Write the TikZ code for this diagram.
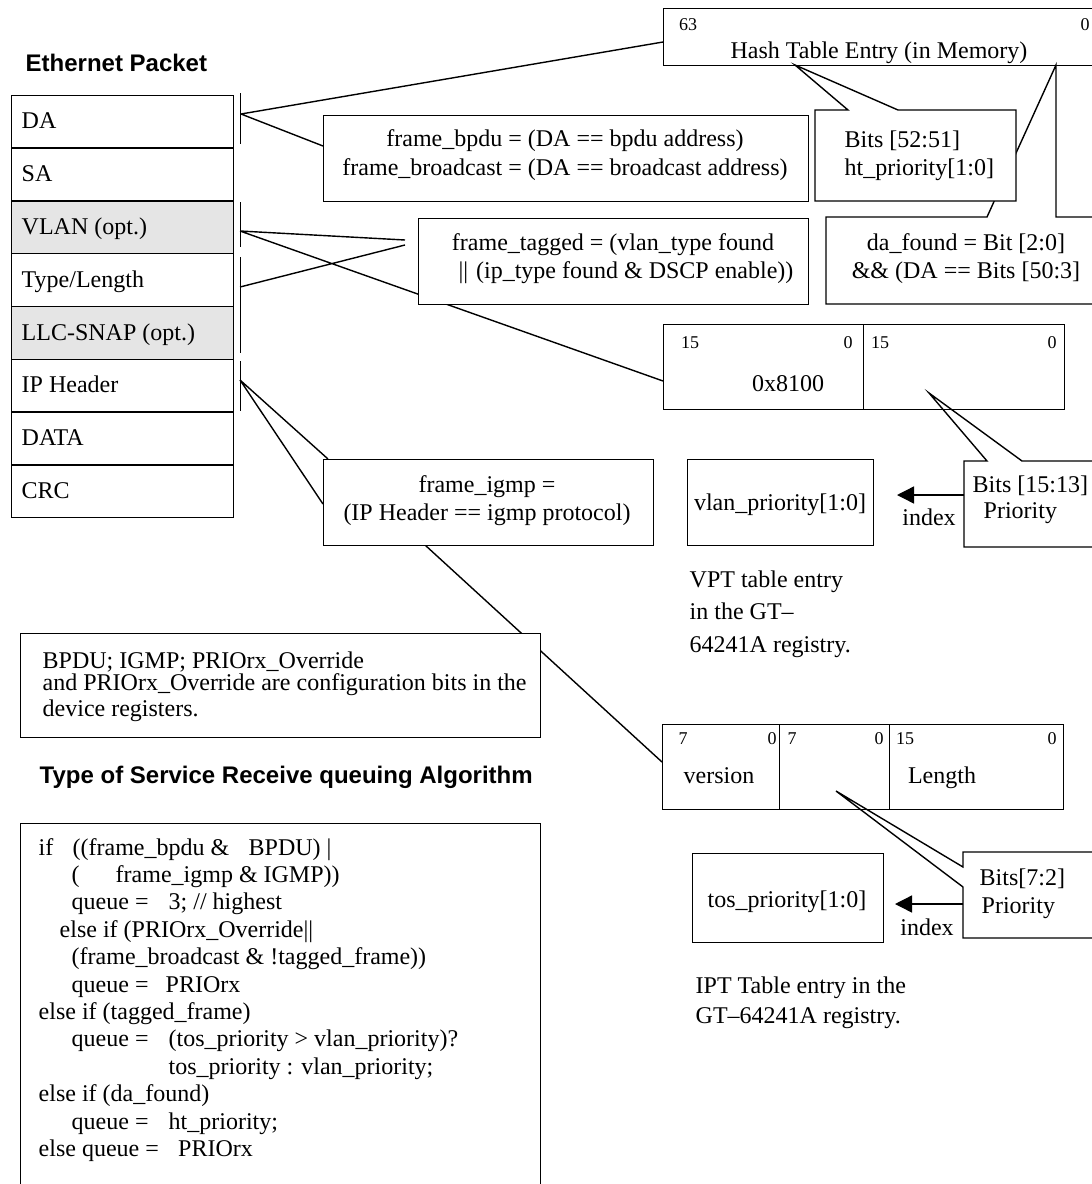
\documentclass[tikz,border=0pt]{standalone}
\usepackage{fontspec}
\setmainfont{Liberation Serif}
\setsansfont{Liberation Sans}
\usetikzlibrary{arrows.meta}

\begin{document}
\begin{tikzpicture}[x=1pt,y=-1pt,line width=1.4pt,
  every node/.style={inner sep=0pt,font=\fontsize{24}{27.5}\selectfont},
  lbl/.style={anchor=base west},
  ctr/.style={anchor=base},
  bit/.style={anchor=base,font=\fontsize{18}{20}\selectfont},
  head/.style={anchor=base west,font=\fontsize{24}{28}\selectfont\sffamily\bfseries},
  panel/.style={draw,fill=white,anchor=north west},
  cell/.style={draw,anchor=north west},
  idx/.style={-{Triangle[length=17pt,width=17pt]}}]
\useasboundingbox (0,0) rectangle (1092,1184);
\clip (0,0) rectangle (1092,1184);
\fill[white] (0,0) rectangle (1092,1184);

% the packet
\node[head] (ethTitle) at (25,71) {Ethernet Packet};
\foreach \i/\lab/\shd in {0/DA/white,1/SA/white,2/VLAN (opt.)/black!10,3/{Type/Length}/white,
  4/LLC-SNAP (opt.)/black!10,5/IP Header/white,6/DATA/white,7/CRC/white}{
  \node[panel,fill=\shd,minimum width=222pt,minimum height=52.8pt] (row\i) at (11,{94.5+52.8*\i}) {};
  \node[lbl] (rowlab\i) at (21,{94.5+52.8*\i+34.4}) {\lab};
}
\foreach \ya/\yb in {93/144,202/247,257/353,361/411}
  \draw (240.5,\ya) -- (240.5,\yb);

% callout lines
\coordinate (tDA) at (241,114);
\coordinate (tVLAN) at (240,231);
\coordinate (tType) at (240,287);
\coordinate (tIP) at (240,380);
\coordinate (tagTipA) at (405,240);
\coordinate (tagTipB) at (405,245);
\coordinate (hashIn) at (663,42);
\coordinate (bpduIn) at (323,146);
\coordinate (tpidIn) at (663,381);
\coordinate (igmpInA) at (328,459);
\coordinate (igmpInB) at (323,504);
\coordinate (igmpOut) at (425,545);
\coordinate (ipIn) at (662,762);
\draw (tDA) -- (hashIn) (tDA) -- (bpduIn);
\draw (tVLAN) -- (tagTipA) (tType) -- (tagTipB) (tVLAN) -- (tpidIn);
\draw (tIP) -- (igmpInA) (tIP) -- (igmpInB);
\draw (igmpOut) -- (ipIn);

% condition boxes
\node[panel,minimum width=485pt,minimum height=86pt] (bpduBox) at (323,115) {};
\node[ctr] (bpduA) at (565,146) {frame\_bpdu = (DA == bpdu address)};
\node[ctr] (bpduB) at (565,175) {frame\_broadcast = (DA == broadcast address)};
\node[panel,minimum width=390pt,minimum height=86pt] (tagBox) at (418,218) {};
\node[ctr] (tagA) at (613,250) {frame\_tagged = (vlan\_type found};
\node[ctr] (tagB) at (626,278) {\textbar\textbar\hspace{8pt}(ip\_type found \& DSCP enable))};
\node[panel,minimum width=330pt,minimum height=86pt] (igmpBox) at (323,459) {};
\node[ctr] (igmpA) at (487,492) {frame\_igmp =};
\node[ctr] (igmpB) at (487,520) {(IP Header == igmp protocol)};

% hash table entry
\node[panel,minimum width=450pt,minimum height=57pt] (hashBox) at (663,8) {};
\node[bit] (hashHi) at (688,30) {63};
\node[bit] (hashLo) at (1085,30) {0};
\node[ctr] (hashLab) at (879,58) {Hash Table Entry (in Memory)};
\draw[fill=white] (987,217) -- (1056,65) -- (1056,217) -- (1120,217) -- (1120,304) -- (826,304) -- (826,217) -- cycle;
\node[ctr] (daA) at (966,250) {da\_found = Bit [2:0]};
\node[ctr] (daB) at (966,278) {\&\& (DA == Bits [50:3]};
\draw[fill=white] (848,110) -- (795,65) -- (898,110) -- (1016,110) -- (1016,201) -- (815,201) -- (815,110) -- cycle;
\node[lbl] (htA) at (844,147) {Bits [52:51]};
\node[lbl] (htB) at (844,175) {ht\_priority[1:0]};

% VLAN tag
\draw[fill=white] (987,461) -- (929,393) -- (1022,461) -- (1120,461) -- (1120,547) -- (964,547) -- (964,461) -- cycle;
\node[lbl] (vptA) at (972,492) {Bits [15:13]};
\node[lbl] (vptB) at (983,518) {Priority};
\node[cell,minimum width=200pt,minimum height=85pt] (tpidCell) at (663,324) {};
\node[cell,minimum width=201pt,minimum height=85pt] (tciCell) at (863,324) {};
\foreach \x/\b in {690/15,848/0,880/15,1052/0}
  \node[bit] (tagbit\x) at (\x,348) {\b};
\node[ctr] (tpidVal) at (788,391) {0x8100};
\node[panel,minimum width=186pt,minimum height=86pt] (vlanBox) at (687,459) {};
\node[ctr] (vlanLab) at (780,510) {vlan\_priority[1:0]};
\coordinate (vptFrom) at (964,495);
\coordinate (vptTo) at (897,495);
\draw[idx] (vptFrom) -- (vptTo);
\node[ctr] (vptIdx) at (929,525) {index};
\node[lbl] (vptNoteA) at (689,587) {VPT table entry};
\node[lbl] (vptNoteB) at (689,619.5) {in the GT--};
\node[lbl] (vptNoteC) at (689,652) {64241A registry.};

% IP header
\draw[fill=white] (963,867) -- (836,791) -- (963,887) -- (963,938) -- (1120,938) -- (1120,852) -- (963,852) -- cycle;
\node[lbl] (iptA) at (979,885) {Bits[7:2]};
\node[lbl] (iptB) at (981,913) {Priority};
\node[cell,minimum width=117pt,minimum height=85pt] (verCell) at (662,724) {};
\node[cell,minimum width=110pt,minimum height=85pt] (tosCell) at (779,724) {};
\node[cell,minimum width=174pt,minimum height=85pt] (lenCell) at (889,724) {};
\foreach \x/\b in {683/7,772/0,792/7,879/0,905/15,1052/0}
  \node[bit] (ipbit\x) at (\x,744) {\b};
\node[ctr] (verLab) at (719,783) {version};
\node[ctr] (lenLab) at (942,783) {Length};
\node[panel,minimum width=191pt,minimum height=89pt] (tosBox) at (692,853) {};
\node[ctr] (tosLab) at (787,907) {tos\_priority[1:0]};
\coordinate (iptFrom) at (963,904);
\coordinate (iptTo) at (895,904);
\draw[idx] (iptFrom) -- (iptTo);
\node[ctr] (iptIdx) at (927,935) {index};
\node[lbl] (iptNoteA) at (695,993) {IPT Table entry in the};
\node[lbl] (iptNoteB) at (695,1023) {GT--64241A registry.};

% note and algorithm
\node[panel,minimum width=520pt,minimum height=104pt] (noteBox) at (20,633) {};
\node[lbl] (noteA) at (42,668) {BPDU; IGMP; PRIOrx\_Override};
\node[lbl] (noteB) at (42,690) {and PRIOrx\_Override are configuration bits in the};
\node[lbl] (noteC) at (42,716) {device registers.};
\node[head] (algTitle) at (39,783) {Type of Service Receive queuing Algorithm};
\node[panel,minimum width=520pt,minimum height=420pt] (algBox) at (20,823) {};
\foreach \x/\txt [count=\n] in {
  38/{\makebox[34pt][l]{if}\makebox[176pt][l]{((frame\_bpdu \&}BPDU) |},
  71/{\makebox[44pt][l]{(}frame\_igmp \& IGMP))},
  71/{\makebox[97pt][l]{queue =}3; // highest},
  59/{else if (PRIOrx\_Override\textbar\textbar},
  71/{(frame\_broadcast \& !tagged\_frame))},
  71/{\makebox[94pt][l]{queue =}PRIOrx},
  38/{else if (tagged\_frame)},
  71/{\makebox[97pt][l]{queue =}(tos\_priority > vlan\_priority)?},
  168/{tos\_priority : vlan\_priority;},
  38/{else if (da\_found)},
  71/{\makebox[97pt][l]{queue =}ht\_priority;},
  38/{\makebox[139.5pt][l]{else queue =}PRIOrx}}
  \node[lbl] (code\n) at (\x,{855+27.4*(\n-1)}) {\txt};
\end{tikzpicture}
\end{document}
